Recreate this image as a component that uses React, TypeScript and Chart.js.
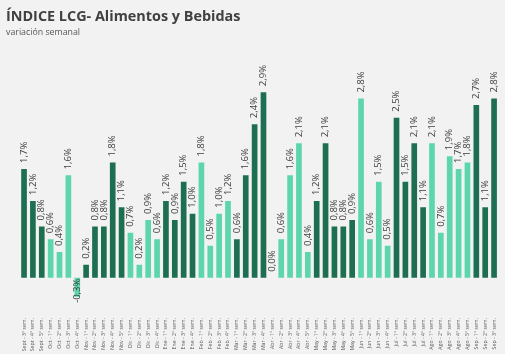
import React, { useEffect, useRef } from "react";
import { Chart, registerables } from "chart.js";

Chart.register(...registerables);

const categories = [
  "Sept - 3° sem.", "Sept - 4° sem.", "Sept - 5° sem.",
  "Oct - 1° sem.", "Oct - 2° sem.", "Oct - 3° sem.", "Oct - 4° sem.",
  "Nov - 1° sem.", "Nov - 2° sem.", "Nov - 3° sem.", "Nov - 4° sem.", "Nov - 5° sem.",
  "Dic - 1° sem.", "Dic - 2° sem.", "Dic - 3° sem.", "Dic - 4° sem.",
  "Ene - 1° sem.", "Ene - 2° sem.", "Ene - 3° sem.", "Ene - 4° sem.",
  "Feb - 1° sem.", "Feb - 2° sem.", "Feb - 3° sem.", "Feb - 4° sem.",
  "Mar - 1° sem.", "Mar - 2° sem.", "Mar - 3° sem.", "Mar - 4° sem.",
  "Abr - 1° sem.", "Abr - 2° sem.", "Abr - 3° sem.", "Abr - 4° sem.", "Abr - 5° sem.",
  "May - 1° sem.", "May - 2° sem.", "May - 3° sem.", "May - 4° sem.", "May - 5° sem.",
  "Jun - 1° sem.", "Jun - 2° sem.", "Jun - 3° sem.", "Jun - 4° sem.",
  "Jul - 1° sem.", "Jul - 2° sem.", "Jul - 3° sem.", "Jul - 4° sem.",
  "Ago - 1° sem.", "Ago - 2° sem.", "Ago - 3° sem.", "Ago - 4° sem.", "Ago - 5° sem.",
  "Sep - 1° sem.", "Sep - 2° sem.", "Sep - 3° sem.",
];

const values = [
  1.7, 1.2, 0.8,
  0.6, 0.4, 1.6, -0.3,
  0.2, 0.8, 0.8, 1.8, 1.1,
  0.7, 0.2, 0.9, 0.6,
  1.2, 0.9, 1.5, 1.0,
  1.8, 0.5, 1.0, 1.2,
  0.6, 1.6, 2.4, 2.9,
  0.0, 0.6, 1.6, 2.1, 0.4,
  1.2, 2.1, 0.8, 0.8, 0.9,
  2.8, 0.6, 1.5, 0.5,
  2.5, 1.5, 2.1, 1.1,
  2.1, 0.7, 1.9, 1.7, 1.8,
  2.7, 1.1, 2.8,
];

const DARK = "#1e6f51";
const LIGHT = "#5dd6ae";

function monthColors(labels: string[]): string[] {
  const out: string[] = [];
  let prev = "";
  let dark = false;
  labels.forEach((l) => {
    const m = l.split(" - ")[0];
    if (m !== prev) {
      dark = !dark;
      prev = m;
    }
    out.push(dark ? DARK : LIGHT);
  });
  return out;
}

const barLabelPlugin = {
  id: "barLabels",
  afterDatasetsDraw(chart: any) {
    const ctx = chart.ctx;
    const meta = chart.getDatasetMeta(0);
    const zero = chart.scales.y.getPixelForValue(0);
    ctx.save();
    ctx.font = "9.5px 'Open Sans'";
    ctx.fillStyle = "#404040";
    ctx.textBaseline = "middle";
    meta.data.forEach((el: any, i: number) => {
      const v = values[i];
      const text = v.toFixed(1).replace(".", ",") + "%";
      ctx.save();
      if (v >= 0) {
        ctx.translate(el.x, Math.min(el.y, zero) - 6);
        ctx.rotate(-Math.PI / 2);
        ctx.textAlign = "left";
      } else {
        ctx.translate(el.x, zero + 1);
        ctx.rotate(-Math.PI / 2);
        ctx.textAlign = "right";
      }
      ctx.fillText(text, 0, 0);
      ctx.restore();
    });
    ctx.restore();
  },
};

export default function App() {
  const ref = useRef<HTMLCanvasElement>(null);
  useEffect(() => {
    if (!ref.current) return;
    const chart = new Chart(ref.current, {
      type: "bar",
      data: {
        labels: categories,
        datasets: [
          {
            data: values,
            backgroundColor: monthColors(categories),
            barPercentage: 0.64,
            categoryPercentage: 1,
          },
        ],
      },
      options: {
        animation: false,
        responsive: false,
        maintainAspectRatio: false,
        layout: { padding: { top: 73, left: 19.6, right: 6.5, bottom: 0 } },
        plugins: { legend: { display: false }, tooltip: { enabled: false } },
        scales: {
          x: {
            grid: { display: false, drawTicks: false },
            border: { display: false },
            ticks: {
              autoSkip: false,
              maxRotation: 90,
              minRotation: 90,
              padding: 2,
              font: { size: 5.2, family: "Open Sans" },
              color: "#595959",
            },
            afterFit: (s: any) => {
              s.height = 38;
            },
          },
          y: { display: false, min: -0.6, max: 3.2 },
        },
      },
      plugins: [barLabelPlugin],
    });
    return () => chart.destroy();
  }, []);

  return (
    <div
      style={{
        position: "fixed",
        left: 0,
        top: 0,
        width: 505,
        height: 354,
        background: "#f2f2f2",
        overflow: "hidden",
      }}
    >
      <canvas ref={ref} width={505} height={354} style={{ position: "absolute", left: 0, top: 0 }} />
      <div
        style={{
          position: "absolute",
          left: 6,
          top: 8.7,
          fontFamily: "'Open Sans'",
          fontWeight: 700,
          fontSize: 14.4,
          lineHeight: "14px",
          color: "#404040",
          whiteSpace: "nowrap",
        }}
      >
        ÍNDICE LCG- Alimentos y Bebidas
      </div>
      <div
        style={{
          position: "absolute",
          left: 6,
          top: 27.5,
          fontFamily: "'Open Sans'",
          fontSize: 8.8,
          lineHeight: "9px",
          color: "#595959",
          whiteSpace: "nowrap",
        }}
      >
        variación semanal
      </div>
    </div>
  );
}
